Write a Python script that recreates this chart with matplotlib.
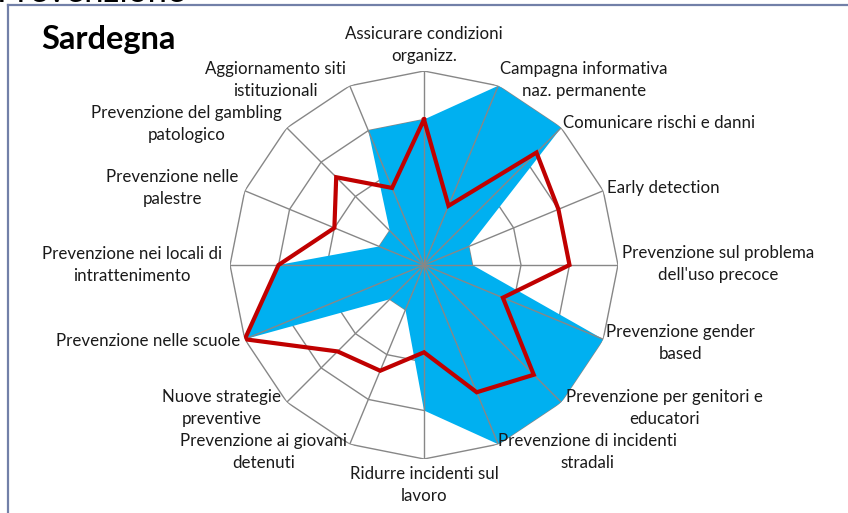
import numpy as np
import matplotlib
matplotlib.use("Agg")
import matplotlib.pyplot as plt
from matplotlib.lines import Line2D

plt.rcParams['font.family'] = ['Lato', 'DejaVu Sans']

categories = [
    "Assicurare condizioni\norganizz.",
    "Campagna informativa\nnaz. permanente",
    "Comunicare rischi e danni",
    "Early detection",
    "Prevenzione sul problema\ndell'uso precoce",
    "Prevenzione gender\nbased",
    "Prevenzione per genitori e\neducatori",
    "Prevenzione di incidenti\nstradali",
    "Ridurre incidenti sul\nlavoro",
    "Prevenzione ai giovani\ndetenuti",
    "Nuove strategie\npreventive",
    "Prevenzione nelle scuole",
    "Prevenzione nei locali di\nintrattenimento",
    "Prevenzione nelle\npalestre",
    "Prevenzione del gambling\npatologico",
    "Aggiornamento siti\nistituzionali",
]
series_fill = [75, 100, 100, 25, 25, 100, 100, 100, 75, 25, 25, 100, 75, 25, 25, 75]
series_line = [75, 33, 82, 75, 75, 44, 80, 71, 45, 59, 63, 100, 75, 50, 64, 43]
ring_levels = [25, 50, 75, 100]
title = "Sardegna"

# label placement styles (ha, va, offset in pixels)
label_style = [
    ('center', 'bottom', (0, 7)),
    ('left', 'center', (2, 6)),
    ('left', 'center', (2, 5)),
    ('left', 'center', (4, 3)),
    ('left', 'center', (4, 1)),
    ('left', 'center', (3, -4)),
    ('left', 'center', (5, -6)),
    ('left', 'center', (0, -8)),
    ('center', 'top', (0, -7)),
    ('right', 'center', (-3, -8)),
    ('right', 'center', (-6, -6)),
    ('right', 'center', (-5, -2)),
    ('right', 'center', (-8, 0)),
    ('right', 'center', (-6, 3)),
    ('right', 'center', (-5, 4)),
    ('right', 'center', (-4, 6)),
]

W, H = 848, 513
fig = plt.figure(figsize=(W / 100, H / 100), dpi=100)
fig.patch.set_facecolor('white')

cx, cy, R = 424, 265, 194
ax = fig.add_axes([(cx - R) / W, (H - cy - R) / H, 2 * R / W, 2 * R / H], projection='polar')
ax.set_theta_zero_location('N')
ax.set_theta_direction(-1)
ax.set_ylim(0, 100)
ax.set_axis_off()

n = len(categories)
theta = np.linspace(0, 2 * np.pi, n, endpoint=False)
theta_c = np.append(theta, theta[0])

grid_col = '#878787'
for lv in ring_levels:
    ax.plot(theta_c, [lv] * (n + 1), color=grid_col, lw=1.0, zorder=1)

fill_c = np.append(series_fill, series_fill[0])
line_c = np.append(series_line, series_line[0])
ax.fill(theta_c, fill_c, color='#00B0F0', lw=0, zorder=2)
for t in theta:
    ax.plot([t, t], [0, ring_levels[-1]], color=grid_col, lw=1.0, zorder=3)
ax.plot(theta_c, line_c, color='#C00000', lw=3.0, zorder=4, solid_joinstyle='miter')

for t, lab, (ha, va, off) in zip(theta, categories, label_style):
    ax.annotate(lab, xy=(t, ring_levels[-1]), xytext=off, textcoords='offset pixels',
                ha=ha, va=va, multialignment='center', fontsize=12.2,
                color='#1a1a1a', linespacing=1.45, annotation_clip=False)

fig.text(108 / W, 1 - 40 / H, title, ha='center', va='center', fontsize=23.5,
         fontweight='bold', color='black')
fig.text(-3 / W, 1 - 1.5 / H, "Prevenzione", ha='left', va='baseline', fontsize=25,
         color='black')

frame_col = '#7280A8'
fig.add_artist(Line2D([7.5 / W, 7.5 / W], [0, 1 - 4.5 / H], color=frame_col, lw=1.6,
                      transform=fig.transFigure))
fig.add_artist(Line2D([7.5 / W, 1], [1 - 4.5 / H, 1 - 4.5 / H], color=frame_col, lw=1.6,
                      transform=fig.transFigure))

fig.savefig('out.png', dpi=100)
